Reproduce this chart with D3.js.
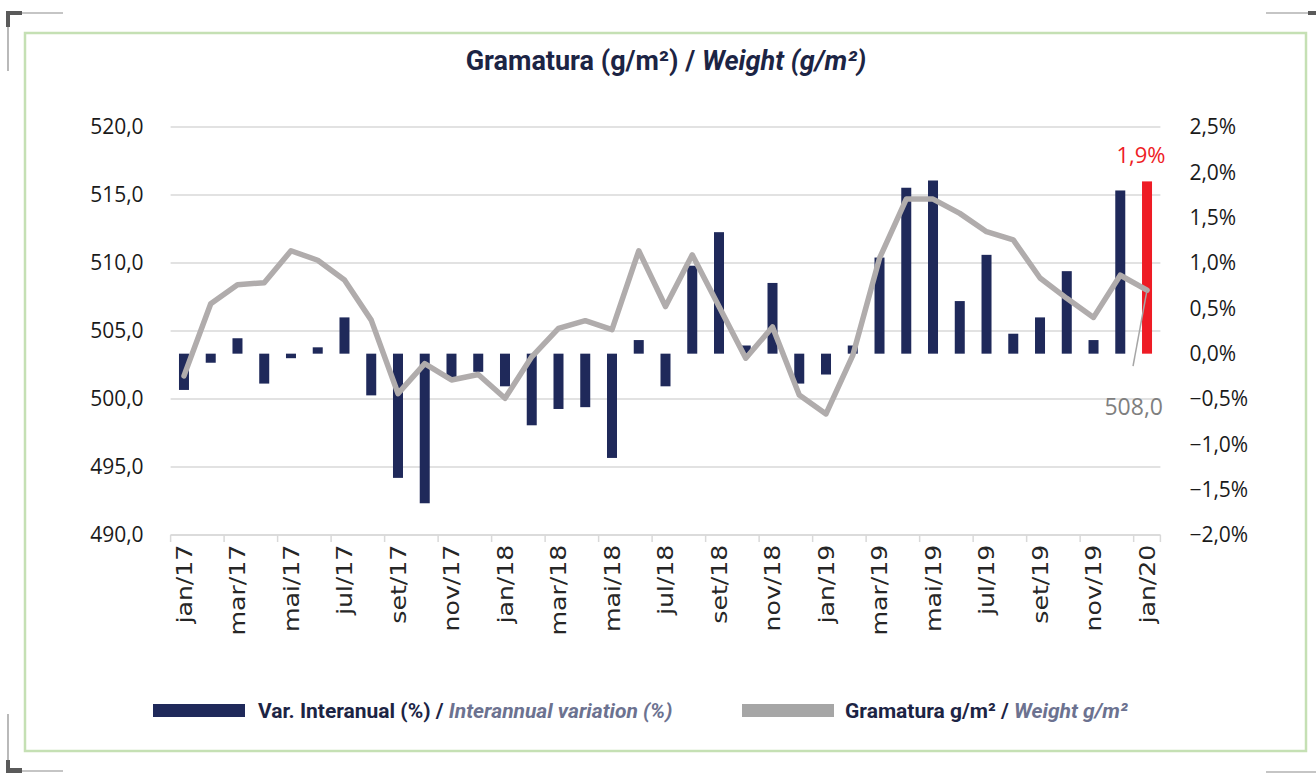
<!DOCTYPE html>
<html lang="pt">
<head>
<meta charset="UTF-8">
<title>Gramatura (g/m²) / Weight (g/m²)</title>
<script src="https://d3js.org/d3.v7.min.js"></script>
<style>
    body { margin: 0; background: #fff; }
    svg { display: block; }
    .axis text { font-family: "Open Sans", sans-serif; font-size: 21px; fill: #1a1a1a; }
    .x-axis text { font-family: "DejaVu Sans", sans-serif; font-size: 21px; fill: #262626; }
    .title { font-family: Roboto, sans-serif; font-weight: 700; font-size: 27px; fill: #1c2444; }
    .legend { font-family: Roboto, sans-serif; font-weight: 700; font-size: 21px; fill: #1c2444; }
    .legend .it { font-style: italic; fill: #6c7290; }
</style>
</head>
<body>
<svg id="chart" width="1316" height="773"></svg>
<script>
// months jan/17 .. jan/20
const months = ["jan/17","fev/17","mar/17","abr/17","mai/17","jun/17","jul/17","ago/17","set/17","out/17","nov/17","dez/17",
                "jan/18","fev/18","mar/18","abr/18","mai/18","jun/18","jul/18","ago/18","set/18","out/18","nov/18","dez/18",
                "jan/19","fev/19","mar/19","abr/19","mai/19","jun/19","jul/19","ago/19","set/19","out/19","nov/19","dez/19",
                "jan/20"];

// Var. Interanual (%) - right axis
const varInteranual = [-0.40,-0.10,0.17,-0.33,-0.05,0.07,0.40,-0.46,-1.37,-1.65,-0.26,-0.20,
                       -0.36,-0.79,-0.61,-0.59,-1.15,0.15,-0.36,0.97,1.34,0.09,0.78,-0.33,
                       -0.23,0.09,1.06,1.83,1.91,0.58,1.09,0.22,0.40,0.91,0.15,1.80,
                       1.90];

// Gramatura g/m2 - left axis
const gramatura = [501.7,507.0,508.4,508.55,510.9,510.2,508.75,505.8,500.4,502.6,501.4,501.8,
                   500.05,503.1,505.2,505.76,505.1,510.9,506.8,510.6,506.8,503.0,505.3,500.3,
                   498.9,503.2,510.35,514.7,514.7,513.65,512.3,511.7,508.9,507.4,506.0,509.1,
                   508.0];

const leftTicks = [490,495,500,505,510,515,520];
const rightTicks = [-2.0,-1.5,-1.0,-0.5,0,0.5,1.0,1.5,2.0,2.5];
const xTickLabels = months.filter((m, i) => i % 2 === 0);

const svg = d3.select("#chart");

const plot = {left: 170.6, right: 1160.4, top: 127, bottom: 535};

const x = d3.scaleBand().domain(months).range([plot.left, plot.right]).padding(0);
const yL = d3.scaleLinear().domain([490, 520]).range([plot.bottom, plot.top]);
const yR = d3.scaleLinear().domain([-2.0, 2.5]).range([plot.bottom, plot.top]);
const barW = 10;
const cx = m => x(m) + x.bandwidth() / 2;
const comma = f => v => d3.format(f)(v).replace(".", ",");

// frame
svg.append("rect")
    .attr("x", 25).attr("y", 33).attr("width", 1281).attr("height", 718)
    .attr("fill", "none").attr("stroke", "#c5e0b4").attr("stroke-width", 2.5);

// corner marks
const marks = svg.append("g").attr("stroke", "#8c8c8c").attr("stroke-width", 1.2).attr("fill", "none");
marks.append("path").attr("d", "M8,71V13H63");
marks.append("path").attr("d", "M1266,13H1316");
marks.append("path").attr("d", "M8,714V771H63");
marks.append("path").attr("d", "M1266,772H1316");
const dark = svg.append("g").attr("fill", "#5a5a5a");
dark.append("path").attr("d", "M6,11H22V15H10V27H6Z");
dark.append("rect").attr("x", 1308).attr("y", 11).attr("width", 8).attr("height", 4);
dark.append("path").attr("d", "M6,760H10V768H22V773H6Z");

// title
const title = svg.append("text").attr("class", "title")
    .attr("x", 666).attr("y", 70).attr("text-anchor", "middle");
title.append("tspan").text("Gramatura (g/m²) / ");
title.append("tspan").attr("font-style", "italic").text("Weight (g/m²)");

// gridlines
svg.append("g").selectAll("line")
    .data(leftTicks)
    .join("line")
    .attr("x1", plot.left).attr("x2", plot.right)
    .attr("y1", d => yL(d)).attr("y2", d => yL(d))
    .attr("stroke", "#d9d9d9").attr("stroke-width", 1.5);

// left axis
svg.append("g").attr("class", "axis")
    .attr("transform", `translate(${plot.left},0)`)
    .call(d3.axisLeft(yL).tickValues(leftTicks).tickSize(0).tickPadding(27).tickFormat(comma(".1f")))
    .call(g => g.select(".domain").remove());

// right axis
svg.append("g").attr("class", "axis")
    .attr("transform", `translate(${plot.right},0)`)
    .call(d3.axisRight(yR).tickValues(rightTicks).tickSize(0).tickPadding(29).tickFormat(d => comma(".1f")(d) + "%"))
    .call(g => g.select(".domain").remove());

// x axis
const xAxis = svg.append("g").attr("class", "axis x-axis")
    .attr("transform", `translate(0,${plot.bottom})`)
    .call(d3.axisBottom(x).tickValues(xTickLabels).tickSize(0))
    .call(g => g.select(".domain").remove());
xAxis.selectAll("text")
    .attr("transform", "rotate(-90) scale(1.2,1)")
    .attr("x", -8).attr("y", 0).attr("dy", "0.36em")
    .style("text-anchor", "end");
xAxis.append("line")
    .attr("x1", plot.left).attr("x2", plot.right)
    .attr("stroke", "#d9d9d9").attr("stroke-width", 1.5);
xAxis.selectAll(".tk")
    .data(xTickLabels.concat([null]))
    .join("line").attr("class", "tk")
    .attr("x1", d => d ? x(d) : plot.right).attr("x2", d => d ? x(d) : plot.right)
    .attr("y1", 0).attr("y2", 7)
    .attr("stroke", "#d9d9d9").attr("stroke-width", 1.5);

// bars
svg.append("g").selectAll("rect")
    .data(months)
    .join("rect")
    .attr("x", m => cx(m) - barW / 2)
    .attr("width", barW)
    .attr("y", (m, i) => Math.min(yR(varInteranual[i]), yR(0)))
    .attr("height", (m, i) => Math.abs(yR(varInteranual[i]) - yR(0)))
    .attr("fill", (m, i) => i === months.length - 1 ? "#ee1c25" : "#1f295a");

// line
const line = d3.line()
    .x((d, i) => cx(months[i]))
    .y(d => yL(d));
svg.append("path")
    .datum(gramatura)
    .attr("d", line)
    .attr("fill", "none")
    .attr("stroke", "#b0acac")
    .attr("stroke-width", 5.5)
    .attr("stroke-linejoin", "round")
    .attr("stroke-linecap", "round");

// data labels
const last = months.length - 1;
const lx = cx(months[last]);
svg.append("text")
    .attr("x", lx - 6).attr("y", yR(varInteranual[last]) - 18)
    .attr("text-anchor", "middle")
    .attr("font-family", "Open Sans, sans-serif").attr("font-size", 22)
    .attr("fill", "#ee1c25")
    .text(comma(".1f")(varInteranual[last]) + "%");

const ly = yL(gramatura[last]);
svg.append("line")
    .attr("x1", lx).attr("y1", ly)
    .attr("x2", lx - 14).attr("y2", ly + 76)
    .attr("stroke", "#a6a6a6").attr("stroke-width", 1.5);
svg.append("text")
    .attr("x", lx + 16).attr("y", ly + 125)
    .attr("text-anchor", "end")
    .attr("font-family", "Open Sans, sans-serif").attr("font-size", 23)
    .attr("fill", "#7f7f7f")
    .text(comma(".1f")(gramatura[last]));

// legend
const legend = svg.append("g").attr("class", "legend");
legend.append("rect").attr("x", 153).attr("y", 704).attr("width", 92).attr("height", 13).attr("fill", "#1f295a");
const t1 = legend.append("text").attr("x", 258).attr("y", 718);
t1.append("tspan").text("Var. Interanual (%) / ");
t1.append("tspan").attr("class", "it").text("Interannual variation (%)");
legend.append("rect").attr("x", 742).attr("y", 704).attr("width", 92).attr("height", 13).attr("fill", "#a6a6a6");
const t2 = legend.append("text").attr("x", 845).attr("y", 718);
t2.append("tspan").text("Gramatura g/m² / ");
t2.append("tspan").attr("class", "it").text("Weight g/m²");
</script>
</body>
</html>
